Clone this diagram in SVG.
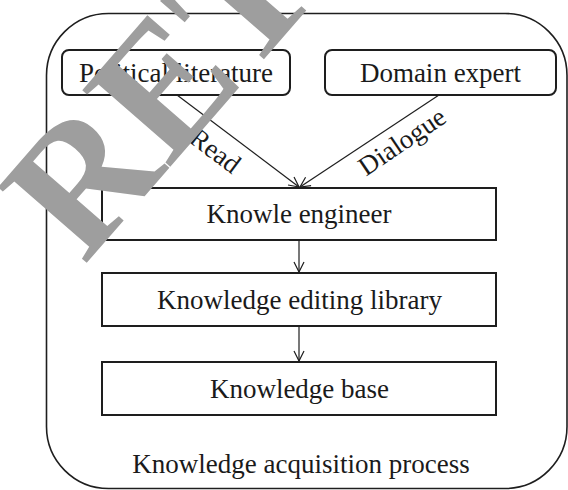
<svg xmlns="http://www.w3.org/2000/svg" width="568" height="490" viewBox="0 0 568 490">
  <defs>
    <style>
      .frame { fill: none; stroke: #1e1e1e; stroke-width: 1.6; }
      .box { fill: #ffffff; stroke: #1e1e1e; stroke-width: 2; }
      .label { font-family: "Liberation Serif", "Times New Roman", serif; font-size: 27px; fill: #1a1a1a; text-anchor: middle; }
      .edge { fill: none; stroke: #1e1e1e; stroke-width: 1.2; marker-end: url(#open); }
      .stamp { font-family: "Liberation Serif", "Times New Roman", serif; font-weight: bold; font-size: 178px; fill: #9e9e9e; }
    </style>
    <marker id="open" viewBox="0 0 12 12" refX="11" refY="6" markerWidth="12" markerHeight="12" markerUnits="userSpaceOnUse" orient="auto">
      <path d="M1,1 L11,6 L1,11" fill="none" stroke="#1e1e1e" stroke-width="1.2"/>
    </marker>
  </defs>

  <rect width="568" height="490" fill="#ffffff"/>

  <!-- enclosing process frame -->
  <g id="process">
    <rect class="frame" x="46.5" y="13.5" width="520.5" height="475" rx="62" ry="62"/>
    <text class="label" x="301" y="473">Knowledge acquisition process</text>
  </g>

  <g id="political-literature">
    <rect class="box" x="62" y="50" width="228" height="45" rx="7" ry="7"/>
    <text class="label" x="176" y="81.5">Political literature</text>
  </g>

  <g id="domain-expert">
    <rect class="box" x="325" y="50" width="231" height="45" rx="7" ry="7"/>
    <text class="label" x="440.5" y="81.5">Domain expert</text>
  </g>

  <g id="knowledge-engineer">
    <rect class="box" x="102" y="188" width="394" height="52"/>
    <text class="label" x="299" y="223">Knowle engineer</text>
  </g>

  <g id="editing-library">
    <rect class="box" x="102" y="273" width="394" height="53"/>
    <text class="label" x="299.5" y="309">Knowledge editing library</text>
  </g>

  <g id="knowledge-base">
    <rect class="box" x="102" y="362" width="394" height="53"/>
    <text class="label" x="299.5" y="397.5">Knowledge base</text>
  </g>

  <g id="connectors">
    <line class="edge" x1="177" y1="95" x2="299" y2="187"/>
    <line class="edge" x1="439" y1="95" x2="300" y2="187"/>
    <line class="edge" x1="299" y1="240" x2="299" y2="272"/>
    <line class="edge" x1="299" y1="326" x2="299" y2="361"/>
    <text class="label" transform="translate(210,158) rotate(37)">Read</text>
    <text class="label" transform="translate(407,149) rotate(-34)">Dialogue</text>
  </g>

  <!-- overprinted stamp -->
  <text class="stamp" transform="translate(84,266) rotate(-49)">RETRACTED</text>
</svg>
